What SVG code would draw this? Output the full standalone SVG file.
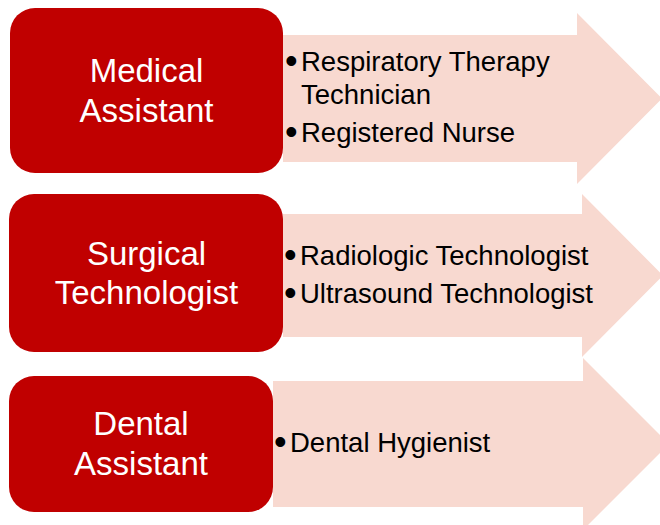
<svg xmlns="http://www.w3.org/2000/svg" width="660" height="525" viewBox="0 0 660 525">
<style>
.arrow{fill:#F8D9D0;}
.box{fill:#C00000;}
.title{font-family:"Liberation Sans",Arial,sans-serif;font-size:33px;fill:#FFFFFF;text-anchor:middle;}
.item{font-family:"Liberation Sans",Arial,sans-serif;font-size:27.5px;fill:#000000;}
.bul{font-size:36px;}
</style>
<rect width="660" height="525" fill="#FFFFFF"/>
<g id="connectors">
<path class="arrow" d="M283,35 H577 V13 L662,98.5 L577,184 V162 H283 Z"/>
<path class="arrow" d="M283,214 H582 V194 L663,275.5 L582,357 V337 H283 Z"/>
<path class="arrow" d="M273,381 H583 V358 L669,444 L583,530 V507 H273 Z"/>
</g>
<g id="node-medical">
<rect class="box" x="10" y="8" width="273" height="165" rx="25" ry="25"/>
<text class="title" x="146.5" y="82">Medical</text>
<text class="title" x="146.5" y="122">Assistant</text>
</g>
<g id="list-medical">
<text class="item" x="285" y="71"><tspan class="bul" dy="2">•</tspan><tspan x="301" dy="-2">Respiratory Therapy</tspan></text>
<text class="item" x="301" y="104">Technician</text>
<text class="item" x="285" y="142"><tspan class="bul" dy="2">•</tspan><tspan x="301" dy="-2">Registered Nurse</tspan></text>
</g>
<g id="node-surgical">
<rect class="box" x="9" y="194" width="274" height="158" rx="25" ry="25"/>
<text class="title" x="146.5" y="265">Surgical</text>
<text class="title" x="146.5" y="304">Technologist</text>
</g>
<g id="list-surgical">
<text class="item" x="284" y="265"><tspan class="bul" dy="2">•</tspan><tspan x="300" dy="-2">Radiologic Technologist</tspan></text>
<text class="item" x="284" y="303"><tspan class="bul" dy="2">•</tspan><tspan x="300" dy="-2">Ultrasound Technologist</tspan></text>
</g>
<g id="node-dental">
<rect class="box" x="9" y="376" width="264" height="136" rx="25" ry="25"/>
<text class="title" x="141" y="435">Dental</text>
<text class="title" x="141" y="475">Assistant</text>
</g>
<g id="list-dental">
<text class="item" x="274" y="452"><tspan class="bul" dy="2">•</tspan><tspan x="290" dy="-2">Dental Hygienist</tspan></text>
</g>
</svg>
